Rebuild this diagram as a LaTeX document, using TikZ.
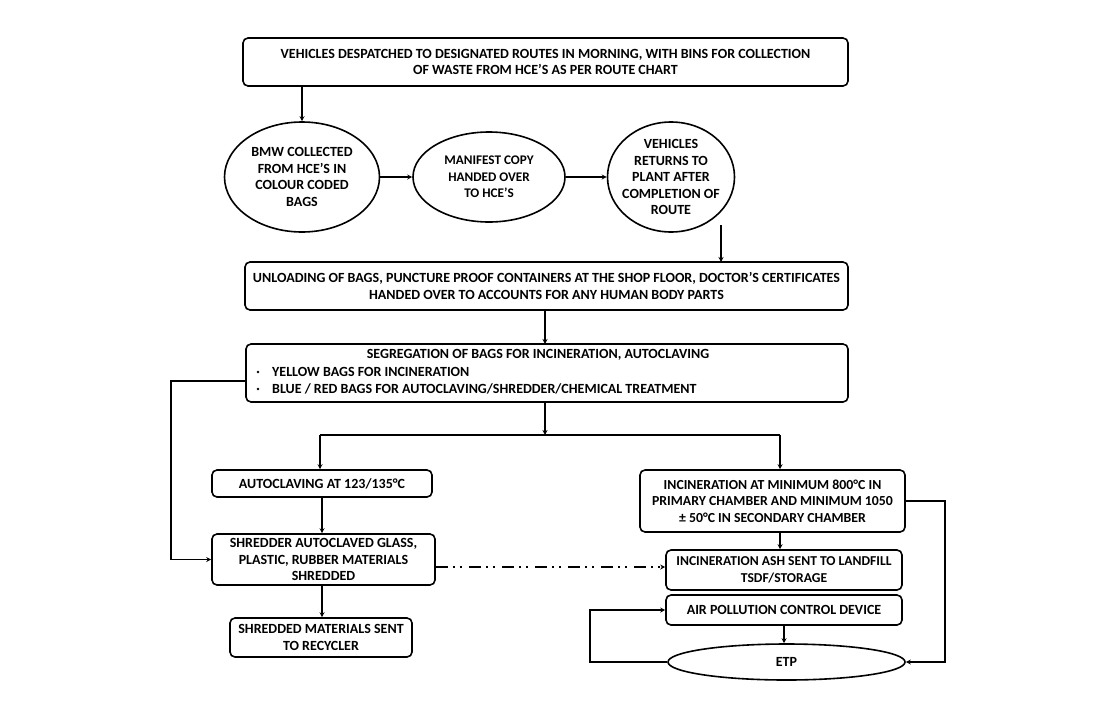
\documentclass[tikz,border=0pt]{standalone}
\usepackage{fontspec}
\setmainfont{Carlito}
\usetikzlibrary{shapes.geometric,arrows.meta}
\newcommand{\fs}[1]{\bfseries\fontsize{#1}{16.5}\selectfont}
\begin{document}
\begin{tikzpicture}[x=1pt,y=-1pt,
  every node/.style={font=\fs{14}},
  box/.style={draw,line width=1.6pt,rounded corners=5pt,inner sep=0pt,align=center},
  oval/.style={draw,ellipse,line width=1.6pt,inner sep=0pt},
  lbl/.style={align=center,inner sep=0pt},
  txt/.style={anchor=west,inner sep=0pt},
  conn/.style={line width=1.3pt},
  arr/.style={conn,-{Stealth[length=5pt,width=5pt]}}]
\useasboundingbox (0,0) rectangle (1115,720);
\node[box,minimum width=605pt,minimum height=48pt] (top) at (545.5,62) {VEHICLES DESPATCHED TO DESIGNATED ROUTES IN MORNING, WITH BINS FOR COLLECTION\\OF WASTE FROM HCE'S AS PER ROUTE CHART};
\node[oval,minimum width=155pt,minimum height=110pt,label={[lbl]center:{BMW COLLECTED\\FROM HCE'S IN\\COLOUR CODED\\BAGS}}] (e1) at (302,177) {};
\node[oval,minimum width=152pt,minimum height=90pt,label={[lbl,font=\fs{13.2}]center:{MANIFEST COPY\\HANDED OVER\\TO HCE'S}}] (e2) at (489,177) {};
\node[oval,minimum width=127pt,minimum height=110pt,label={[lbl]center:{VEHICLES\\RETURNS TO\\PLANT AFTER\\COMPLETION OF\\ROUTE}}] (e3) at (671,177) {};
\node[box,minimum width=603pt,minimum height=48pt] (unl) at (546.5,286) {UNLOADING OF BAGS, PUNCTURE PROOF CONTAINERS AT THE SHOP FLOOR, DOCTOR'S CERTIFICATES\\HANDED OVER TO ACCOUNTS FOR ANY HUMAN BODY PARTS};
\node[box,minimum width=602pt,minimum height=58pt] (seg) at (547,373) {};
\node[anchor=center] (segt) at (538,355) {SEGREGATION OF BAGS FOR INCINERATION, AUTOCLAVING};
\fill (258,372) circle (1.3pt);
\fill (258,389) circle (1.3pt);
\node[txt] (b1) at (272,372) {YELLOW BAGS FOR INCINERATION};
\node[txt] (b2) at (272,389) {BLUE / RED BAGS FOR AUTOCLAVING/SHREDDER/CHEMICAL TREATMENT};
\coordinate (split) at (545,435);
\coordinate (sl) at (320,435);
\coordinate (sr) at (780,435);
\node[box,minimum width=220pt,minimum height=27pt] (auto) at (322,483.5) {AUTOCLAVING AT 123/135°C};
\node[box,minimum width=223pt,minimum height=51pt] (shr) at (323.5,559.5) {SHREDDER AUTOCLAVED GLASS,\\PLASTIC, RUBBER MATERIALS\\SHREDDED};
\node[box,minimum width=182pt,minimum height=39pt] (rec) at (321,637.5) {SHREDDED MATERIALS SENT\\TO RECYCLER};
\node[box,minimum width=265pt,minimum height=62pt,font=\fs{13.8}] (inc) at (772.5,501) {INCINERATION AT MINIMUM 800°C IN\\PRIMARY CHAMBER AND MINIMUM 1050\\± 50°C IN SECONDARY CHAMBER};
\node[box,minimum width=236pt,minimum height=40pt,font=\fs{13.6}] (ash) at (784,570) {INCINERATION ASH SENT TO LANDFILL\\TSDF/STORAGE};
\node[box,minimum width=236pt,minimum height=30pt] (apc) at (784,610) {AIR POLLUTION CONTROL DEVICE};
\node[oval,minimum width=237pt,minimum height=36pt,label={[lbl]center:ETP}] (etp) at (786.5,662) {};
\coordinate (lft) at (171,381);
\coordinate (lp) at (590,662);
\coordinate (rp) at (945,501);
% connectors
\draw[arr] (top.south -| e1) -- (e1.north);
\draw[arr] (e1.east) -- (e2.west);
\draw[arr] (e2.east) -- (e3.west);
\draw[arr] (721,225) -- (721,262);
\draw[arr] (unl.south -| 545,0) -- (545,344);
\draw[arr] (545,402) -- (split);
\draw[conn] (sl) -- (sr);
\draw[arr] (sl) -- (auto.north -| sl);
\draw[arr] (sr) -- (inc.north -| sr);
\draw[arr] (seg.west |- lft) -- (lft) |- (shr.west);
\draw[arr] (auto.south -| 322,0) -- (shr.north -| 322,0);
\draw[arr] (shr.south -| 322,0) -- (rec.north -| 322,0);
\draw[conn,dash pattern=on 12pt off 5pt on 2pt off 5pt on 2pt off 7pt,-{Stealth[length=5pt,width=5pt]}] (shr.east |- 0,567) -- (ash.west |- 0,567);
\draw[arr] (inc.south -| 780,0) -- (ash.north -| 780,0);
\draw[arr] (apc.south -| 784,0) -- (etp.north -| 784,0);
\draw[arr] (etp.west) -- (lp) |- (apc.west);
\draw[arr] (inc.east) -- (rp) |- (etp.east);
\end{tikzpicture}
\end{document}
